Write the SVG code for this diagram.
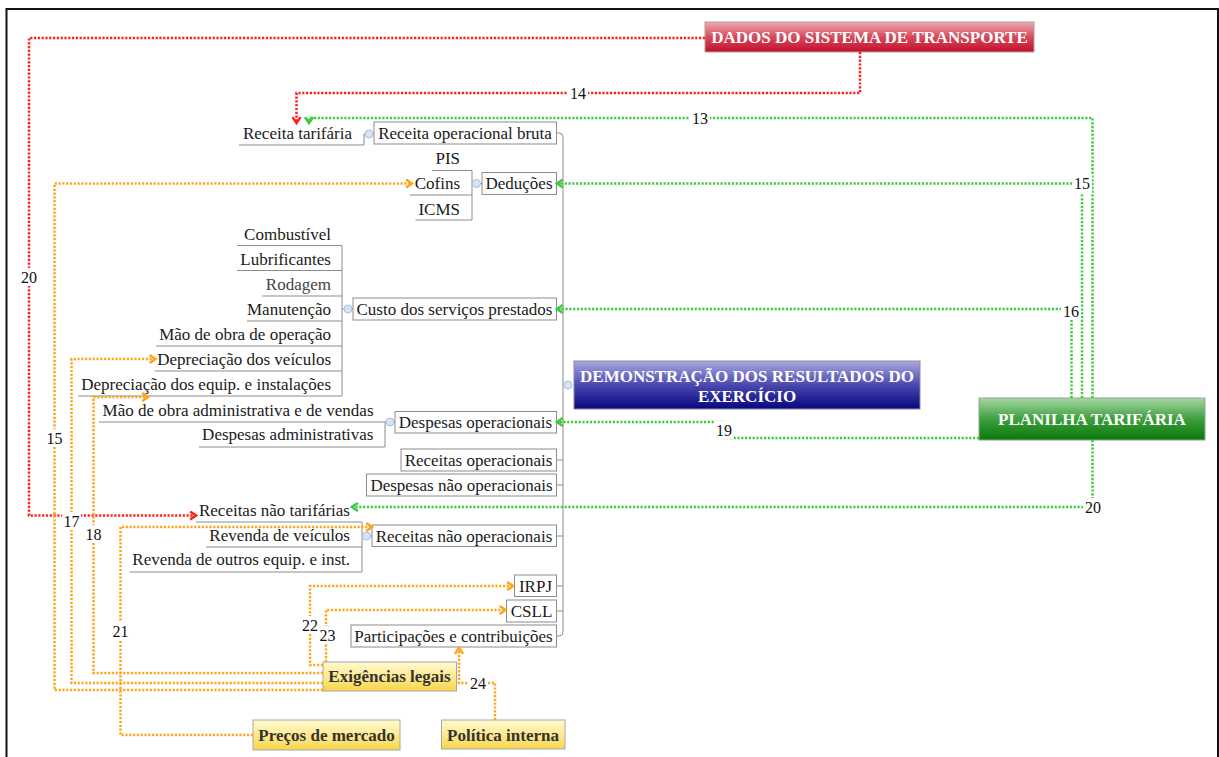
<svg xmlns="http://www.w3.org/2000/svg" width="1219" height="757" viewBox="0 0 1219 757">
  <style>
    .frame { fill: none; stroke: #111; stroke-width: 2; }
    .box { fill: #fff; stroke: #8c8c8c; stroke-width: 1; }
    .tree { fill: none; stroke: #8c8c8c; stroke-width: 1; }
    .knob { fill: #d8e3f4; stroke: #a9c0e4; stroke-width: 1; }
    .t { font-family: "Liberation Serif", "Times New Roman", serif; font-size: 17px; fill: #1a1a1a; }
    .r { text-anchor: end; }
    .m { text-anchor: middle; }
    .hdr { font-family: "Liberation Serif", "Times New Roman", serif; font-size: 17px; font-weight: bold; fill: #fff; text-anchor: middle; }
    .src { font-family: "Liberation Serif", "Times New Roman", serif; font-size: 17px; font-weight: bold; fill: #333; text-anchor: middle; }
    .ybox { fill: url(#gYellow); stroke: #a8a8a8; stroke-width: 1; }
    .lnk { fill: none; stroke-width: 2.5; stroke-dasharray: 2.2 1.6; }
    .red { stroke: #ff1f1f; }
    .grn { stroke: #3ccc3c; }
    .org { stroke: #ffa51a; }
    .num { font-family: "Liberation Serif", "Times New Roman", serif; font-size: 16px; fill: #111; text-anchor: middle; }
    .nbg { fill: #fff; }
  </style>
  <defs>
    <linearGradient id="gRed" x1="0" y1="0" x2="0" y2="1">
      <stop offset="0" stop-color="#eeaab2"/>
      <stop offset="0.5" stop-color="#d64a5c"/>
      <stop offset="1" stop-color="#c2102a"/>
    </linearGradient>
    <linearGradient id="gBlue" x1="0" y1="0" x2="0" y2="1">
      <stop offset="0" stop-color="#aaa8e0"/>
      <stop offset="0.5" stop-color="#4a48b0"/>
      <stop offset="1" stop-color="#060680"/>
    </linearGradient>
    <linearGradient id="gGreen" x1="0" y1="0" x2="0" y2="1">
      <stop offset="0" stop-color="#a6d8a6"/>
      <stop offset="0.5" stop-color="#3e9f3e"/>
      <stop offset="1" stop-color="#087808"/>
    </linearGradient>
    <linearGradient id="gYellow" x1="0" y1="0" x2="0" y2="1">
      <stop offset="0" stop-color="#fffbd2"/>
      <stop offset="0.55" stop-color="#fde88a"/>
      <stop offset="1" stop-color="#f6d54a"/>
    </linearGradient>
    <marker id="aRed" markerUnits="userSpaceOnUse" markerWidth="10" markerHeight="10" refX="5.5" refY="4" orient="auto" viewBox="0 0 7 8">
      <path d="M0.8,0.8 L5.5,4 L0.8,7.2" fill="none" stroke="#ff1f1f" stroke-width="2"/>
    </marker>
    <marker id="aGrn" markerUnits="userSpaceOnUse" markerWidth="10" markerHeight="10" refX="5.5" refY="4" orient="auto" viewBox="0 0 7 8">
      <path d="M0.8,0.8 L5.5,4 L0.8,7.2" fill="none" stroke="#3ccc3c" stroke-width="2"/>
    </marker>
    <marker id="aOrg" markerUnits="userSpaceOnUse" markerWidth="10" markerHeight="10" refX="5.5" refY="4" orient="auto" viewBox="0 0 7 8">
      <path d="M0.8,0.8 L5.5,4 L0.8,7.2" fill="none" stroke="#ffa51a" stroke-width="2"/>
    </marker>
  </defs>

  <rect width="1219" height="757" fill="#fff"/>
  <rect class="frame" x="6.5" y="9" width="1211.5" height="760"/>

  <!-- tree lines: trunk and sub-branches -->
  <g id="tree">
    <path class="tree" d="M556.5,133 H559 Q563,133 563,137 V632 Q563,636 559,636 H556.5"/>
    <path class="tree" d="M556.5,183.5 H563 M556.5,309 H563 M556.5,422 H563 M556.5,460 H563 M556.5,485 H563 M556.5,536 H563 M556.5,586 H563 M556.5,611 H563"/>
    <!-- Receita operacional bruta -->
    <path class="tree" d="M239,145 H364 V134 H374"/>
    <!-- Deduções -->
    <path class="tree" d="M432,170.5 H472 M410,195 H472 M415.5,220 H472 M472,170.5 V220 M472,183.5 H482"/>
    <!-- Custo dos serviços prestados -->
    <path class="tree" d="M237,245.5 H342 M237,270.5 H342 M262,296 H342 M247,321 H342 M156,346 H342 M154.5,371 H342 M78,396 H342 M342,245.5 V396 M342,309 H353"/>
    <!-- Despesas operacionais -->
    <path class="tree" d="M99,422 H385 M199,447 H385 M385,422 V447 M385,422 H395"/>
    <!-- Receitas não operacionais -->
    <path class="tree" d="M196,522 H362 M206,547 H362 M129.5,572 H362 M362,522 V572 M362,536 H372"/>
    <circle class="knob" cx="369" cy="134" r="4"/>
    <circle class="knob" cx="476.5" cy="183.5" r="4"/>
    <circle class="knob" cx="348" cy="309" r="4"/>
    <circle class="knob" cx="390" cy="422" r="4"/>
    <circle class="knob" cx="366.5" cy="536" r="4"/>
    <circle class="knob" cx="568" cy="385" r="4"/>
  </g>

  <!-- central topic -->
  <g id="dre">
    <rect x="574" y="361" width="346" height="48" fill="url(#gBlue)" stroke="#8a8aa8" stroke-width="1"/>
    <text class="hdr" x="747" y="381.5">DEMONSTRAÇÃO DOS RESULTADOS DO</text>
    <text class="hdr" x="747" y="401.5">EXERCÍCIO</text>
  </g>

  <!-- statement lines -->
  <g id="receita-bruta">
    <rect class="box" x="374" y="122" width="182.5" height="22"/>
    <text class="t m" x="465" y="138.5">Receita operacional bruta</text>
    <text class="t r" x="352" y="139">Receita tarifária</text>
  </g>
  <g id="deducoes">
    <rect class="box" x="482" y="172.5" width="74.5" height="22"/>
    <text class="t m" x="519" y="189">Deduções</text>
    <text class="t r" x="460" y="164">PIS</text>
    <text class="t r" x="460" y="189">Cofins</text>
    <text class="t r" x="460" y="215">ICMS</text>
  </g>
  <g id="custo">
    <rect class="box" x="353" y="298" width="203.5" height="22"/>
    <text class="t m" x="454.5" y="314.5">Custo dos serviços prestados</text>
    <text class="t r" x="331" y="240">Combustível</text>
    <text class="t r" x="331" y="265">Lubrificantes</text>
    <text class="t r" x="331" y="290" style="fill:#444">Rodagem</text>
    <text class="t r" x="331" y="315">Manutenção</text>
    <text class="t r" x="331" y="340">Mão de obra de operação</text>
    <text class="t r" x="331" y="365">Depreciação dos veículos</text>
    <text class="t r" x="331" y="390">Depreciação dos equip. e instalações</text>
  </g>
  <g id="despesas-op">
    <rect class="box" x="395" y="411.5" width="161.5" height="21.5"/>
    <text class="t m" x="475.5" y="428">Despesas operacionais</text>
    <text class="t r" x="373.5" y="416">Mão de obra administrativa e de vendas</text>
    <text class="t r" x="373.5" y="440">Despesas administrativas</text>
  </g>
  <g id="receitas-op">
    <rect class="box" x="401" y="449" width="155.5" height="22"/>
    <text class="t m" x="478.5" y="465.5">Receitas operacionais</text>
  </g>
  <g id="despesas-nao-op">
    <rect class="box" x="366.5" y="474" width="190" height="22"/>
    <text class="t m" x="461.5" y="490.5">Despesas não operacionais</text>
  </g>
  <g id="receitas-nao-op">
    <rect class="box" x="372" y="525" width="184.5" height="21.5"/>
    <text class="t m" x="464" y="541.5">Receitas não operacionais</text>
    <text class="t r" x="350" y="516">Receitas não tarifárias</text>
    <text class="t r" x="350" y="541">Revenda de veículos</text>
    <text class="t r" x="350" y="565">Revenda de outros equip. e inst.</text>
  </g>
  <g id="irpj">
    <rect class="box" x="514.5" y="575" width="42" height="21.5"/>
    <text class="t m" x="535.5" y="591.5">IRPJ</text>
  </g>
  <g id="csll">
    <rect class="box" x="506.5" y="600" width="50" height="22"/>
    <text class="t m" x="531.5" y="616.5">CSLL</text>
  </g>
  <g id="participacoes">
    <rect class="box" x="351" y="625" width="205.5" height="22"/>
    <text class="t m" x="453.5" y="641.5">Participações e contribuições</text>
  </g>

  <!-- sources -->
  <g id="dados-transporte">
    <rect x="705" y="22" width="329" height="30" fill="url(#gRed)" stroke="#b0a0a0" stroke-width="1"/>
    <text class="hdr" x="869.5" y="43">DADOS DO SISTEMA DE TRANSPORTE</text>
  </g>
  <g id="planilha">
    <rect x="979" y="398" width="226" height="42" fill="url(#gGreen)" stroke="#90a890" stroke-width="1"/>
    <text class="hdr" x="1092" y="425">PLANILHA TARIFÁRIA</text>
  </g>
  <g id="exigencias">
    <rect class="ybox" x="323" y="662" width="133.5" height="29"/>
    <text class="src" x="389.5" y="681.5">Exigências legais</text>
  </g>
  <g id="precos">
    <rect class="ybox" x="253" y="720" width="147" height="30"/>
    <text class="src" x="326.5" y="740.5">Preços de mercado</text>
  </g>
  <g id="politica">
    <rect class="ybox" x="441.5" y="720" width="123.5" height="29"/>
    <text class="src" x="503" y="740.5">Política interna</text>
  </g>

  <!-- numbered relationship links -->
  <g id="connectors">
    <path class="lnk red" d="M705,38 H29 V515.5 H196" marker-end="url(#aRed)"/>
    <path class="lnk red" d="M860,52 V93 H296.5 V123" marker-end="url(#aRed)"/>
    <path class="lnk grn" d="M1092.5,398 V118 H309 V123" marker-end="url(#aGrn)"/>
    <path class="lnk grn" d="M1082,398 V183.5 H557" marker-end="url(#aGrn)"/>
    <path class="lnk grn" d="M1071.5,398 V309 H557" marker-end="url(#aGrn)"/>
    <path class="lnk grn" d="M979,438 H724 V422 H557" marker-end="url(#aGrn)"/>
    <path class="lnk grn" d="M1092.5,440 V507 H352" marker-end="url(#aGrn)"/>
    <path class="lnk org" d="M323,690 H54.5 V183.5 H412" marker-end="url(#aOrg)"/>
    <path class="lnk org" d="M323,683 H71.5 V359 H155.5" marker-end="url(#aOrg)"/>
    <path class="lnk org" d="M323,673 H93.5 V397 H148" marker-end="url(#aOrg)"/>
    <path class="lnk org" d="M323,665 H310 V586 H513" marker-end="url(#aOrg)"/>
    <path class="lnk org" d="M326,662 V610 H505.5" marker-end="url(#aOrg)"/>
    <path class="lnk org" d="M253,735 H120.5 V527 H372" marker-end="url(#aOrg)"/>
    <path class="lnk org" d="M495,720 V683 H459 V648" marker-end="url(#aOrg)"/>

    <rect class="nbg" x="19" y="268" width="19" height="18"/>
    <text class="num" x="29" y="282.5">20</text>
    <rect class="nbg" x="568" y="84" width="20" height="18"/>
    <text class="num" x="578" y="98.5">14</text>
    <rect class="nbg" x="690" y="109" width="20" height="18"/>
    <text class="num" x="700" y="123.5">13</text>
    <rect class="nbg" x="1072" y="174" width="20" height="19"/>
    <text class="num" x="1082" y="189">15</text>
    <rect class="nbg" x="1061" y="301" width="20" height="19"/>
    <text class="num" x="1071" y="316.5">16</text>
    <rect class="nbg" x="714" y="421" width="20" height="18"/>
    <text class="num" x="724" y="436">19</text>
    <rect class="nbg" x="1083" y="498" width="20" height="19"/>
    <text class="num" x="1093" y="513">20</text>
    <rect class="nbg" x="45" y="429" width="19" height="18"/>
    <text class="num" x="54.5" y="443.5">15</text>
    <rect class="nbg" x="62" y="512" width="19" height="18"/>
    <text class="num" x="71.5" y="526.5">17</text>
    <rect class="nbg" x="84" y="525" width="19" height="18"/>
    <text class="num" x="93.5" y="539.5">18</text>
    <rect class="nbg" x="111" y="622" width="19" height="18"/>
    <text class="num" x="120.5" y="636.5">21</text>
    <rect class="nbg" x="301" y="616" width="18" height="18"/>
    <text class="num" x="310" y="630.5">22</text>
    <rect class="nbg" x="319" y="626" width="17" height="18"/>
    <text class="num" x="327.5" y="640.5">23</text>
    <rect class="nbg" x="468" y="674" width="20" height="18"/>
    <text class="num" x="478" y="689">24</text>
  </g>
</svg>
